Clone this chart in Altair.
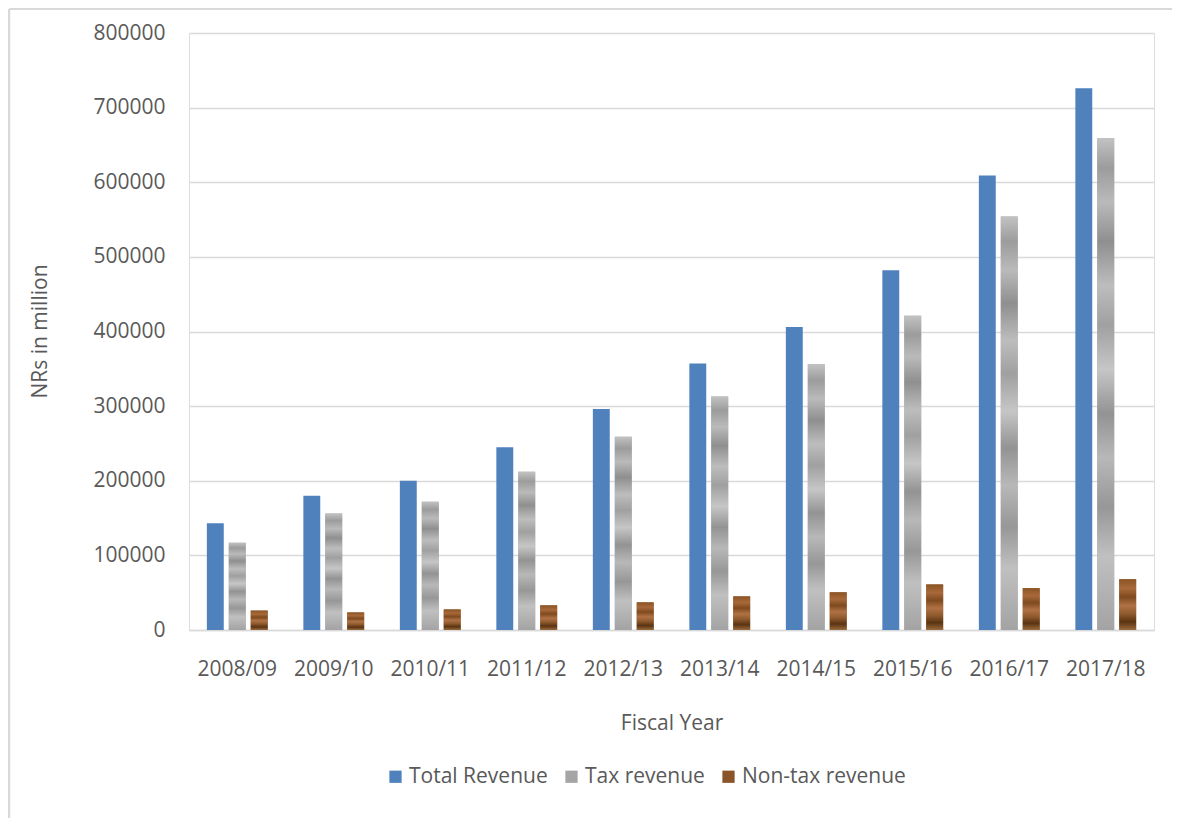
import altair as alt
import pandas as pd

years = ["2008/09", "2009/10", "2010/11", "2011/12", "2012/13",
         "2013/14", "2014/15", "2015/16", "2016/17", "2017/18"]
total_revenue = [143000, 180000, 200000, 245000, 296000, 357000, 406000, 482000, 609000, 726000]
tax_revenue = [117000, 156000, 172000, 212000, 259000, 313000, 356000, 421000, 554000, 659000]
nontax_revenue = [26000, 23500, 27500, 33000, 37000, 45000, 50500, 61000, 56000, 68000]
series_names = ["Total Revenue", "Tax revenue", "Non-tax revenue"]
y_ticks = [0, 100000, 200000, 300000, 400000, 500000, 600000, 700000, 800000]

rows = []
for i, yr in enumerate(years):
    rows.append({"year": yr, "series": series_names[0], "value": total_revenue[i]})
    rows.append({"year": yr, "series": series_names[1], "value": tax_revenue[i]})
    rows.append({"year": yr, "series": series_names[2], "value": nontax_revenue[i]})
df = pd.DataFrame(rows)

FONT = "Open Sans"
FS = 21
TXT = "#595959"
GRID = "#d9d9d9"
legend_colors = ["#4f81bd", "#a5a5a5", "#8a5428"]

tax_fill = alt.LinearGradient(
    gradient="linear", x1=0, x2=0, y1=0, y2=1,
    stops=[
        alt.GradientStop(color="#c2c2c2", offset=0.0),
        alt.GradientStop(color="#9c9c9c", offset=0.06),
        alt.GradientStop(color="#bababa", offset=0.13),
        alt.GradientStop(color="#8f8f8f", offset=0.21),
        alt.GradientStop(color="#bdbdbd", offset=0.30),
        alt.GradientStop(color="#a0a0a0", offset=0.38),
        alt.GradientStop(color="#c6c6c6", offset=0.47),
        alt.GradientStop(color="#939393", offset=0.56),
        alt.GradientStop(color="#b8b8b8", offset=0.65),
        alt.GradientStop(color="#979797", offset=0.75),
        alt.GradientStop(color="#c0c0c0", offset=0.85),
        alt.GradientStop(color="#a3a3a3", offset=1.0),
    ],
)
wood_fill = alt.LinearGradient(
    gradient="linear", x1=0, x2=0, y1=0, y2=1,
    stops=[
        alt.GradientStop(color="#8b5424", offset=0.0),
        alt.GradientStop(color="#a8693a", offset=0.18),
        alt.GradientStop(color="#7e4a1e", offset=0.35),
        alt.GradientStop(color="#b07245", offset=0.52),
        alt.GradientStop(color="#8f5a2c", offset=0.68),
        alt.GradientStop(color="#5a3412", offset=0.84),
        alt.GradientStop(color="#9c6a3c", offset=1.0),
    ],
)

x_enc = alt.X(
    "year:N", sort=years,
    scale=alt.Scale(paddingInner=0.37, paddingOuter=0.185),
    axis=alt.Axis(
        title="Fiscal Year", labelAngle=0, ticks=False,
        domainColor=GRID, domainWidth=1.5, labelPadding=28,
        labelFontSize=FS, labelColor=TXT, labelFont=FONT,
        titleFontSize=FS, titleColor=TXT, titleFont=FONT, titleFontWeight="normal",
        titleY=93, titleBaseline="middle",
    ),
)
xoff_enc = alt.XOffset("series:N", sort=series_names,
                       scale=alt.Scale(domain=series_names, paddingInner=0.23))
y_enc = alt.Y(
    "value:Q",
    scale=alt.Scale(domain=[0, 800000], nice=False),
    axis=alt.Axis(
        title="NRs in million", values=y_ticks, format="d", domain=False, ticks=False,
        grid=True, gridColor=GRID, gridWidth=1.5, labelPadding=24,
        labelFontSize=FS, labelColor=TXT, labelFont=FONT,
        titleFontSize=FS, titleColor=TXT, titleFont=FONT, titleFontWeight="normal",
        titleX=-149, titleY=298, titleBaseline="middle", titleAlign="center",
    ),
)

base = alt.Chart(df).mark_bar().encode(
    x=x_enc, xOffset=xoff_enc, y=y_enc,
    color=alt.Color(
        "series:N",
        scale=alt.Scale(domain=series_names, range=legend_colors),
        legend=alt.Legend(
            title=None, orient="none", direction="horizontal",
            legendX=196, legendY=733, symbolType="square", symbolSize=150,
            symbolStrokeWidth=0, labelFontSize=FS, labelColor=TXT, labelFont=FONT,
            columnPadding=13, labelOffset=3, labelLimit=0,
        ),
    ),
)

tax_layer = alt.Chart(df).transform_filter(
    alt.datum.series == "Tax revenue"
).mark_bar(fill=tax_fill).encode(x=x_enc, xOffset=xoff_enc, y=y_enc)

wood_layer = alt.Chart(df).transform_filter(
    alt.datum.series == "Non-tax revenue"
).mark_bar(fill=wood_fill).encode(x=x_enc, xOffset=xoff_enc, y=y_enc)

one = pd.DataFrame({"a": [0]})
left_border = alt.Chart(one).mark_rule(color="#d9d9d9", strokeWidth=2.5).encode(
    x=alt.value(-180), y=alt.value(-24), y2=alt.value(800))
top_border = alt.Chart(one).mark_rule(color="#d9d9d9", strokeWidth=2).encode(
    x=alt.value(-180), x2=alt.value(1000), y=alt.value(-24))

chart = alt.layer(base, tax_layer, wood_layer, left_border, top_border).properties(
    width=965, height=597,
    autosize=alt.AutoSizeParams(type="none"),
    padding={"left": 181, "top": 25, "right": 18, "bottom": 188},
).configure_view(stroke=None).configure(background="white")

chart.save("out.html", embed_options={"renderer": "svg", "actions": False})
